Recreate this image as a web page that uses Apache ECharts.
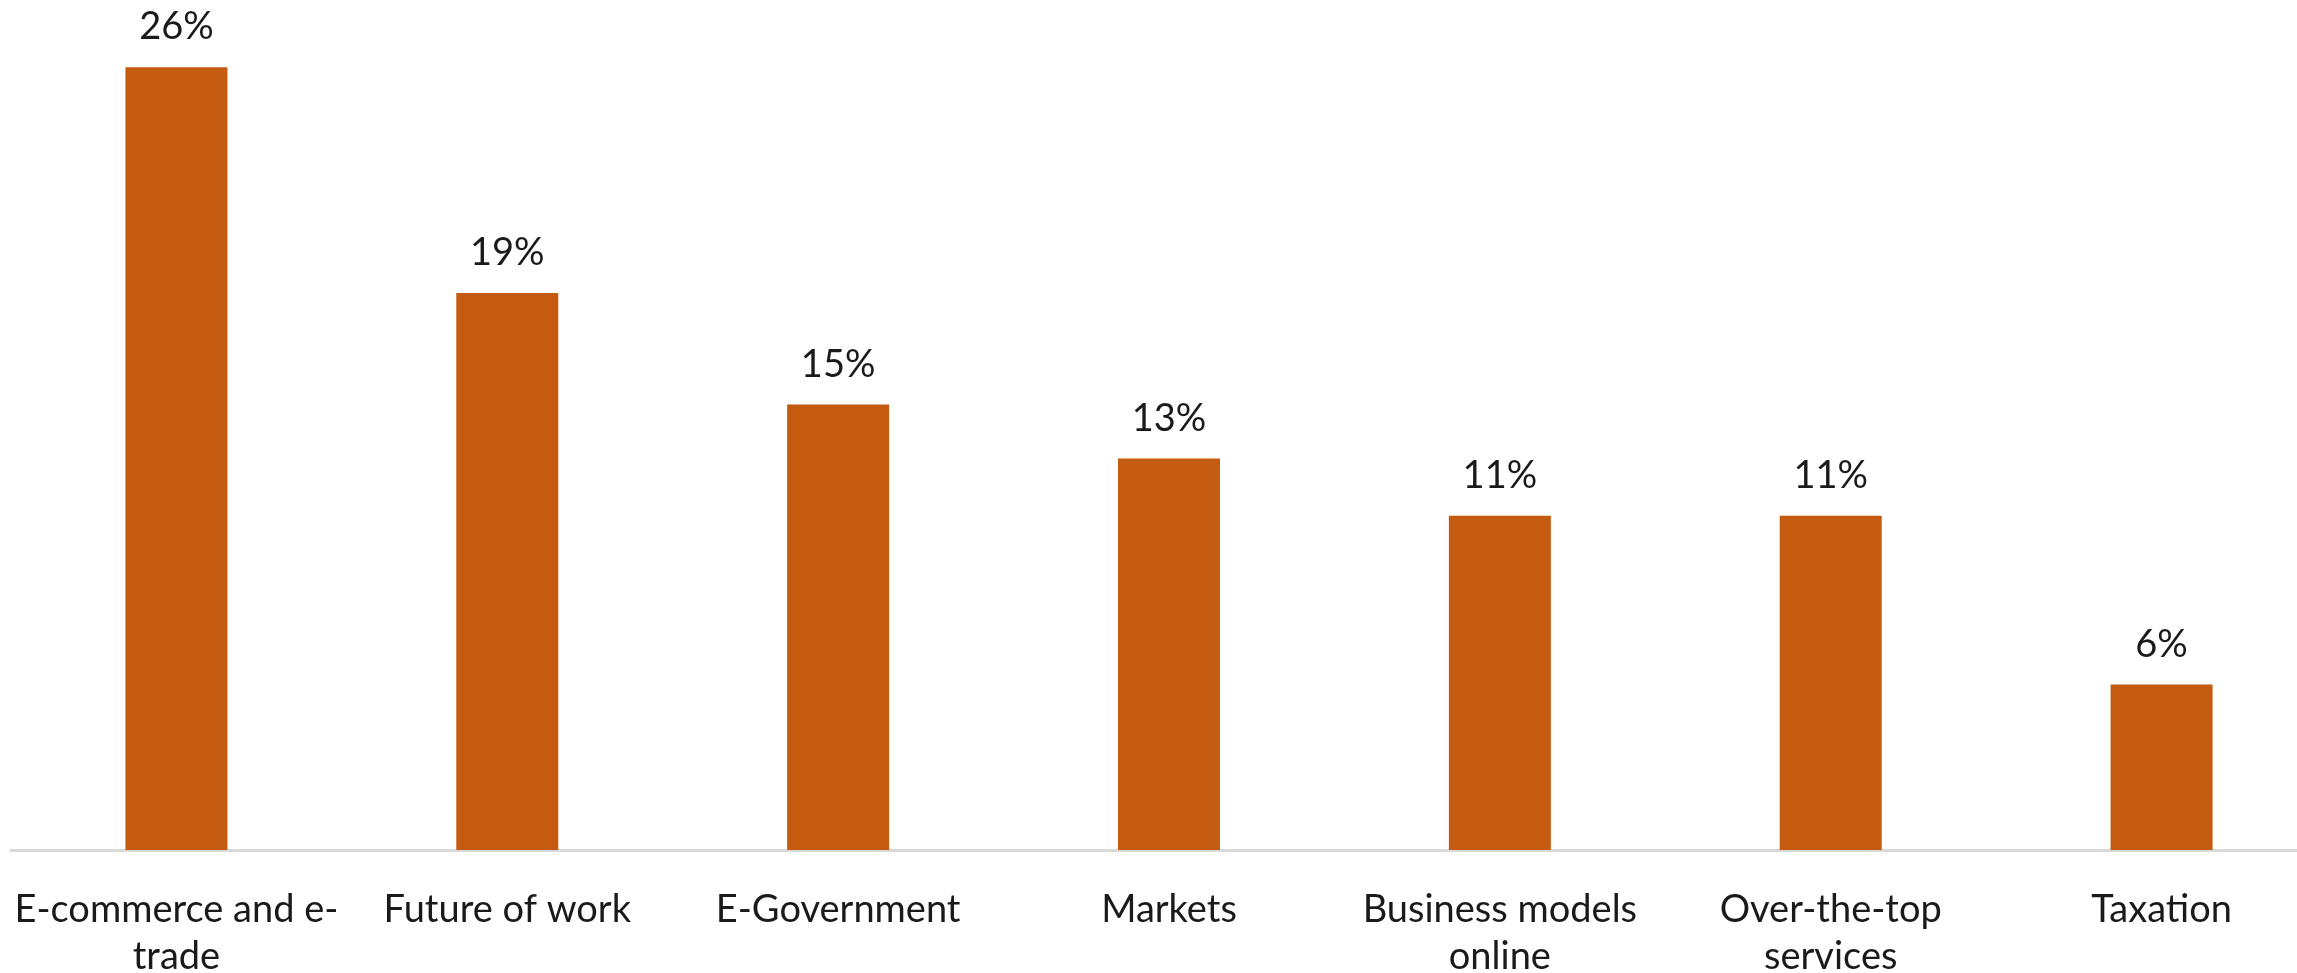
<!DOCTYPE html>
<html>
<head>
<meta charset="utf-8">
<style>
html,body{margin:0;padding:0;background:#fff;}
#chart{width:2297px;height:973px;}
</style>
<script src="https://cdn.jsdelivr.net/npm/echarts@6/dist/echarts.min.js"></script>
</head>
<body>
<div id="chart"></div>
<script>
const categories = [
  "E-commerce and e-\ntrade",
  "Future of work",
  "E-Government",
  "Markets",
  "Business models\nonline",
  "Over-the-top\nservices",
  "Taxation"
];
const shares = [26.0, 18.5, 14.8, 13.0, 11.1, 11.1, 5.5];

const chart = echarts.init(document.getElementById('chart'));
chart.setOption({
  animation: false,
  backgroundColor: '#ffffff',
  grid: { left: 11, width: 2316, top: 7, height: 843, containLabel: false, outerBoundsMode: 'none' },
  xAxis: {
    type: 'category',
    data: categories,
    axisLine: { show: true, lineStyle: { color: '#d9d9d9', width: 3 } },
    axisTick: { show: false },
    axisLabel: {
      interval: 0,
      margin: 36,
      fontFamily: 'Lato',
      fontSize: 38,
      lineHeight: 47,
      color: '#1a1a1a'
    }
  },
  yAxis: {
    type: 'value',
    min: 0,
    max: 28,
    show: false,
    splitLine: { show: false }
  },
  series: [{
    type: 'bar',
    data: shares,
    barWidth: 102,
    itemStyle: { color: '#C55A11' },
    label: {
      show: true,
      position: 'top',
      distance: 21,
      fontFamily: 'Lato',
      fontSize: 38,
      color: '#1a1a1a',
      formatter: p => Math.round(p.value) + '%'
    }
  }]
});
</script>
</body>
</html>
